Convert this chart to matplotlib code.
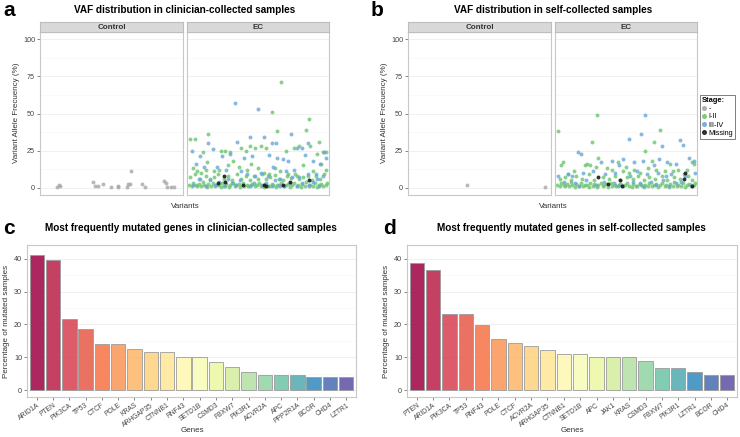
import numpy as np
import matplotlib
matplotlib.use("Agg")
import matplotlib.pyplot as plt
from matplotlib.lines import Line2D

plt.rcParams["font.family"] = ["Liberation Sans", "DejaVu Sans"]

W, H = 740, 437

# ---------------- data: VAF scatter (x = position within facet 0-100, y = VAF %) ----------------
CTRL_A = [(11, 0.5), (12, 1.8), (13, 1.2), (37, 3.8), (38, 1.0), (40, 1.1), (44, 2.4), (50, 0.4),
          (55, 0.6), (55, 1.0), (61, 0.7), (62, 2.2), (63, 2.4), (64, 10.9), (72, 2.4), (74, 0.7),
          (88, 4.4), (89, 3.1), (90, 0.7), (93, 0.7), (95, 0.4)]
CTRL_B = [(41, 1.6), (97, 0.7)]

GREEN_A = [(67, 71), (60, 51), (87, 46), (64, 38), (85, 39), (14, 36), (1, 33), (4, 33), (94, 31),
           (97, 24), (99, 24), (93, 23), (88, 28), (80, 28), (76, 27), (70, 25), (56, 27), (52, 28),
           (48, 27), (44, 28), (41, 25), (38, 27), (30, 24), (26, 25), (23, 25), (10, 24), (12, 12),
           (3, 13), (6, 11), (9, 10), (13, 17), (18, 11), (22, 12), (28, 15), (32, 18), (36, 14),
           (42, 12), (45, 16), (50, 13), (54, 10), (58, 9), (62, 13), (66, 11), (72, 9), (78, 8),
           (83, 15), (90, 11), (96, 16), (99, 12),
           (1, 7), (4, 9), (8, 6), (12, 8), (15, 5.5), (18, 7), (21, 9), (25, 6), (28, 8), (31, 5),
           (35, 9), (38, 6), (41, 7.5), (44, 5), (47, 8), (50, 6), (53, 9), (56, 5.5), (59, 7),
           (62, 8.5), (65, 6), (68, 5), (71, 8), (74, 6.5), (77, 9), (80, 5.5), (83, 7), (86, 8),
           (89, 5), (92, 7.5), (95, 6), (98, 9),
           (0, 2), (2, 1), (3, 3), (5, 1.5), (6, 0.8), (7, 2.5), (9, 1), (10, 3.5), (11, 1.8),
           (13, 0.6), (14, 2.2), (16, 1.2), (17, 3), (19, 0.8), (20, 2), (22, 1.5), (23, 0.5),
           (24, 3.2), (26, 1), (27, 2.4), (29, 0.7), (30, 1.8), (32, 2.8), (33, 0.9), (34, 1.6),
           (36, 2.2), (37, 0.6), (39, 3.4), (40, 1.2), (42, 2), (43, 0.8), (45, 1.5), (46, 2.6),
           (48, 0.9), (49, 1.9), (51, 3), (52, 1.1), (54, 0.5), (55, 2.3), (57, 1.4), (58, 0.8),
           (60, 2.7), (61, 1.6), (63, 0.7), (64, 2), (66, 1.2), (67, 3.1), (69, 0.9), (70, 1.7),
           (72, 2.4), (73, 0.6), (75, 1.5), (76, 2.9), (78, 1), (79, 1.9), (81, 0.7), (82, 2.5),
           (84, 1.3), (85, 3.5), (87, 0.8), (88, 2), (90, 1.1), (91, 2.8), (93, 0.6), (94, 1.7),
           (96, 2.3), (97, 0.9), (99, 1.6), (100, 3)]
BLUE_A = [(33, 57), (50, 53), (74, 36), (44, 34), (54, 34), (35, 31), (14, 30), (60, 30), (63, 30),
          (86, 30), (2, 25), (17, 26), (8, 21), (24, 21), (30, 23), (40, 20), (46, 21), (58, 22),
          (64, 20), (68, 19), (72, 18), (78, 27), (82, 27), (84, 22), (90, 18), (98, 24), (99, 20),
          (95, 16), (5, 16), (11, 14), (20, 14), (27, 12), (38, 11), (42, 9), (48, 8), (52, 10),
          (57, 8), (61, 14), (66, 6), (70, 11), (76, 12), (80, 7), (86, 9), (92, 9), (97, 8),
          (7, 6), (15, 5), (22, 4), (31, 3), (37, 5), (47, 3), (56, 3), (65, 2), (73, 3), (82, 3),
          (90, 4), (3, 2), (12, 1), (25, 1), (44, 1), (60, 1), (78, 1), (94, 1), (19, 2), (34, 1.5),
          (53, 2), (69, 1), (87, 2), (28, 6), (62, 5), (75, 7), (93, 6)]
BLACK_A = [(25, 8), (21, 3.1), (26, 4), (39, 1.8), (54, 1.5), (56, 1.2), (68, 1.8), (73, 3.5), (87, 5.3)]

GREEN_B = [(1, 38), (29, 49), (75, 39), (70, 31), (25, 31), (64, 25), (30, 20), (4, 17), (3, 15),
           (20, 15), (22, 16), (24, 15), (28, 14), (36, 13), (40, 12), (44, 17), (48, 11), (56, 12),
           (60, 10), (66, 13), (72, 12), (78, 11), (84, 11), (88, 12), (94, 12), (98, 17), (99, 16),
           (12, 11), (8, 9), (52, 10), (82, 16), (69, 18), (50, 14), (92, 9),
           (2, 6), (6, 7), (10, 5), (14, 8), (18, 6), (23, 9), (27, 5), (33, 7), (38, 6), (42, 8),
           (46, 5), (51, 7), (55, 6), (59, 8), (63, 5), (67, 7), (71, 6), (76, 8), (80, 5), (85, 7),
           (89, 6), (95, 8), (98, 5),
           (0, 2), (2, 1), (3, 3), (5, 1.5), (6, 0.8), (7, 2.5), (9, 1), (10, 3.5), (11, 1.8),
           (13, 0.6), (14, 2.2), (16, 1.2), (17, 3), (19, 0.8), (20, 2), (22, 1.5), (23, 0.5),
           (24, 3.2), (26, 1), (27, 2.4), (29, 0.7), (30, 1.8), (32, 2.8), (33, 0.9), (34, 1.6),
           (36, 2.2), (37, 0.6), (39, 3.4), (40, 1.2), (42, 2), (43, 0.8), (45, 1.5), (46, 2.6),
           (48, 0.9), (49, 1.9), (51, 3), (52, 1.1), (54, 0.5), (55, 2.3), (57, 1.4), (58, 0.8),
           (60, 2.7), (61, 1.6), (63, 0.7), (64, 2), (66, 1.2), (67, 3.1), (69, 0.9), (70, 1.7),
           (72, 2.4), (73, 0.6), (75, 1.5), (76, 2.9), (78, 1), (79, 1.9), (81, 0.7), (82, 2.5),
           (84, 1.3), (85, 3.5), (87, 0.8), (88, 2), (90, 1.1), (91, 2.8), (93, 0.6), (94, 1.7),
           (96, 2.3), (97, 0.9), (99, 1.6), (100, 3)]
BLUE_B = [(64, 49), (61, 36), (52, 33), (89, 32), (91, 29), (76, 28), (15, 24), (17, 23), (1, 8),
          (32, 17), (40, 18), (45, 15), (48, 19), (56, 17), (62, 18), (70, 15), (74, 19), (80, 17),
          (86, 16), (96, 20), (99, 18), (8, 9), (11, 8), (19, 10), (26, 11), (35, 9), (42, 10),
          (53, 8), (58, 11), (65, 9), (73, 10), (79, 8), (83, 9), (93, 8), (100, 10),
          (5, 4), (13, 3), (21, 5), (28, 2), (34, 4), (41, 3), (47, 2), (55, 4), (60, 3), (68, 4),
          (72, 2), (77, 5), (86, 3), (90, 4), (97, 2), (16, 1), (44, 1), (62, 1), (81, 1)]
BLACK_B = [(30, 7), (37, 2.7), (46, 5.4), (47, 1), (92.7, 10), (92.3, 5.8), (98, 1.3)]

# ---------------- data: mutated genes ----------------
GENES_C = ["ARID1A", "PTEN", "PIK3CA", "TP53", "CTCF", "POLE", "KRAS", "ARHGAP35", "CTNNB1", "RNF43",
           "SETD1B", "CSMD3", "FBXW7", "PIK3R1", "ACVR2A", "APC", "PPP2R1A", "BCOR", "CHD4", "LZTR1"]
PCT_C = [41.1, 39.6, 21.7, 18.7, 13.9, 13.9, 12.4, 11.6, 11.6, 10.1,
         10.1, 8.5, 7.0, 5.5, 4.7, 4.7, 4.7, 3.9, 3.9, 3.9]
GENES_D = ["PTEN", "ARID1A", "PIK3CA", "TP53", "RNF43", "POLE", "CTCF", "ACVR2A", "ARHGAP35", "CTNNB1",
           "SETD1B", "APC", "JAK1", "KRAS", "CSMD3", "FBXW7", "PIK3R1", "LZTR1", "BCOR", "CHD4"]
PCT_D = [38.8, 36.5, 23.3, 23.3, 19.9, 15.5, 14.3, 13.3, 12.2, 11.1,
         11.1, 10.0, 10.0, 10.0, 8.9, 6.7, 6.7, 5.6, 4.5, 4.5]

STAGES = ["-", "I-II", "III-IV", "Missing"]
STAGE_COLORS = {"-": "#a6a6a6", "I-II": "#6cc56f", "III-IV": "#6aa6d8", "Missing": "#1a1a1a"}

fig = plt.figure(figsize=(W / 100, H / 100), dpi=100)
fig.patch.set_facecolor("white")


def px_axes(x0, y0, x1, y1):
    return fig.add_axes([x0 / W, 1 - y1 / H, (x1 - x0) / W, (y1 - y0) / H])


def fx(x):
    return x / W


def fy(y):
    return 1 - y / H


def style_panel(ax):
    ax.set_facecolor("white")
    for s in ax.spines.values():
        s.set_color("#c8c8c8")
        s.set_linewidth(0.8)
    ax.tick_params(length=2, width=0.5, color="#555555", labelsize=5.2, labelcolor="#444444", pad=1.5)


def facet(ax, strip_ax, label, series, show_y):
    style_panel(ax)
    ax.set_xlim(-1.5, 101.5)
    ax.set_ylim(-5, 105)
    ax.set_yticks([0, 25, 50, 75, 100])
    for yv in [0, 25, 50, 75, 100]:
        ax.axhline(yv, color="#eeeeee", lw=0.6, zorder=0)
    for yv in [12.5, 37.5, 62.5, 87.5]:
        ax.axhline(yv, color="#f6f6f6", lw=0.4, zorder=0)
    ax.set_xticks([])
    if not show_y:
        ax.tick_params(axis="y", left=False, labelleft=False)
    for stage, pts in series:
        if not pts:
            continue
        xs = [p[0] for p in pts]
        ys = [p[1] for p in pts]
        ax.scatter(xs, ys, s=8, color=STAGE_COLORS[stage], alpha=0.8 if stage != "Missing" else 0.9,
                   linewidths=0, zorder=3 if stage == "Missing" else 2)
    strip_ax.set_facecolor("#d9d9d9")
    strip_ax.set_xticks([])
    strip_ax.set_yticks([])
    for s in strip_ax.spines.values():
        s.set_color("#bdbdbd")
        s.set_linewidth(0.8)
    strip_ax.text(0.5, 0.45, label, ha="center", va="center", fontsize=5.8, fontweight="bold",
                  color="#333333", transform=strip_ax.transAxes)


def vaf_panel(xoff, title, letter, ctrl, green, blue, black):
    c0, c1 = xoff + 40, xoff + 183
    e0, e1 = xoff + 187, xoff + 329
    ax_c = px_axes(c0, 32, c1, 195)
    st_c = px_axes(c0, 22, c1, 32)
    ax_e = px_axes(e0, 32, e1, 195)
    st_e = px_axes(e0, 22, e1, 32)
    facet(ax_c, st_c, "Control", [("-", ctrl)], True)
    facet(ax_e, st_e, "EC", [("I-II", green), ("III-IV", blue), ("Missing", black)], False)
    fig.text(fx(xoff + 185), fy(10), title, ha="center", va="center", fontsize=7.2, fontweight="bold")
    fig.text(fx(xoff + 3), fy(10), letter, ha="left", va="center", fontsize=15, fontweight="bold")
    fig.text(fx(xoff + 185), fy(207), "Variants", ha="center", va="center", fontsize=5.8, color="#333333")
    fig.text(fx(xoff + 17), fy(113), "Variant Allele Frecuency (%)", ha="center", va="center",
             rotation=90, fontsize=5.8, color="#333333")


vaf_panel(0, "VAF distribution in clinician-collected samples", "a", CTRL_A, GREEN_A, BLUE_A, BLACK_A)
vaf_panel(368, "VAF distribution in self-collected samples", "b", CTRL_B, GREEN_B, BLUE_B, BLACK_B)

# legend
handles = [Line2D([], [], marker="o", ls="", ms=2.6, color=STAGE_COLORS[s], alpha=0.85) for s in STAGES]
leg = fig.legend(handles, STAGES, title="Stage:", loc="upper left", bbox_to_anchor=(fx(700), fy(95)),
                 fontsize=5.2, title_fontsize=5.4, frameon=True, handlelength=0.6, handletextpad=0.3,
                 labelspacing=0.15, borderpad=0.3, borderaxespad=0, alignment="left")
leg.get_title().set_fontweight("bold")
leg.get_frame().set_edgecolor("#444444")
leg.get_frame().set_linewidth(0.6)
leg.get_frame().set_boxstyle("square", pad=0)


def bar_panel(x0, x1, genes, pct, title, letter, title_cx, letter_x, ylab_x, genes_cx):
    ax = px_axes(x0, 245, x1, 397)
    style_panel(ax)
    n = len(genes)
    colors = plt.get_cmap("Spectral")(np.linspace(0, 1, n))
    xs = np.arange(n)
    ax.bar(xs, pct, width=0.88, color=colors, alpha=0.85, edgecolor="#9a9a9a", linewidth=0.7, zorder=2)
    ax.set_xlim(-0.6, n - 0.4)
    ax.set_ylim(-2.1, 44.2)
    ax.set_yticks([0, 10, 20, 30, 40])
    for yv in [0, 10, 20, 30, 40]:
        ax.axhline(yv, color="#eeeeee", lw=0.6, zorder=0)
    for yv in [5, 15, 25, 35]:
        ax.axhline(yv, color="#f6f6f6", lw=0.4, zorder=0)
    ax.set_xticks(xs)
    ax.set_xticklabels(genes, rotation=35, ha="right", rotation_mode="anchor", fontsize=4.9)
    fig.text(fx(title_cx), fy(228), title, ha="center", va="center", fontsize=7.2, fontweight="bold")
    fig.text(fx(letter_x), fy(229), letter, ha="left", va="center", fontsize=15, fontweight="bold")
    fig.text(fx(genes_cx), fy(431), "Genes", ha="center", va="center", fontsize=5.8, color="#333333")
    fig.text(fx(ylab_x), fy(321), "Percentage of mutated samples", ha="center", va="center",
             rotation=90, fontsize=5.8, color="#333333")


bar_panel(27, 356, GENES_C, PCT_C, "Most frequently mutated genes in clinician-collected samples", "c",
          191, 3, 7, 192)
bar_panel(407, 737, GENES_D, PCT_D, "Most frequently mutated genes in self-collected samples", "d",
          571, 383, 386, 572)

fig.savefig("out.png", dpi=100)
